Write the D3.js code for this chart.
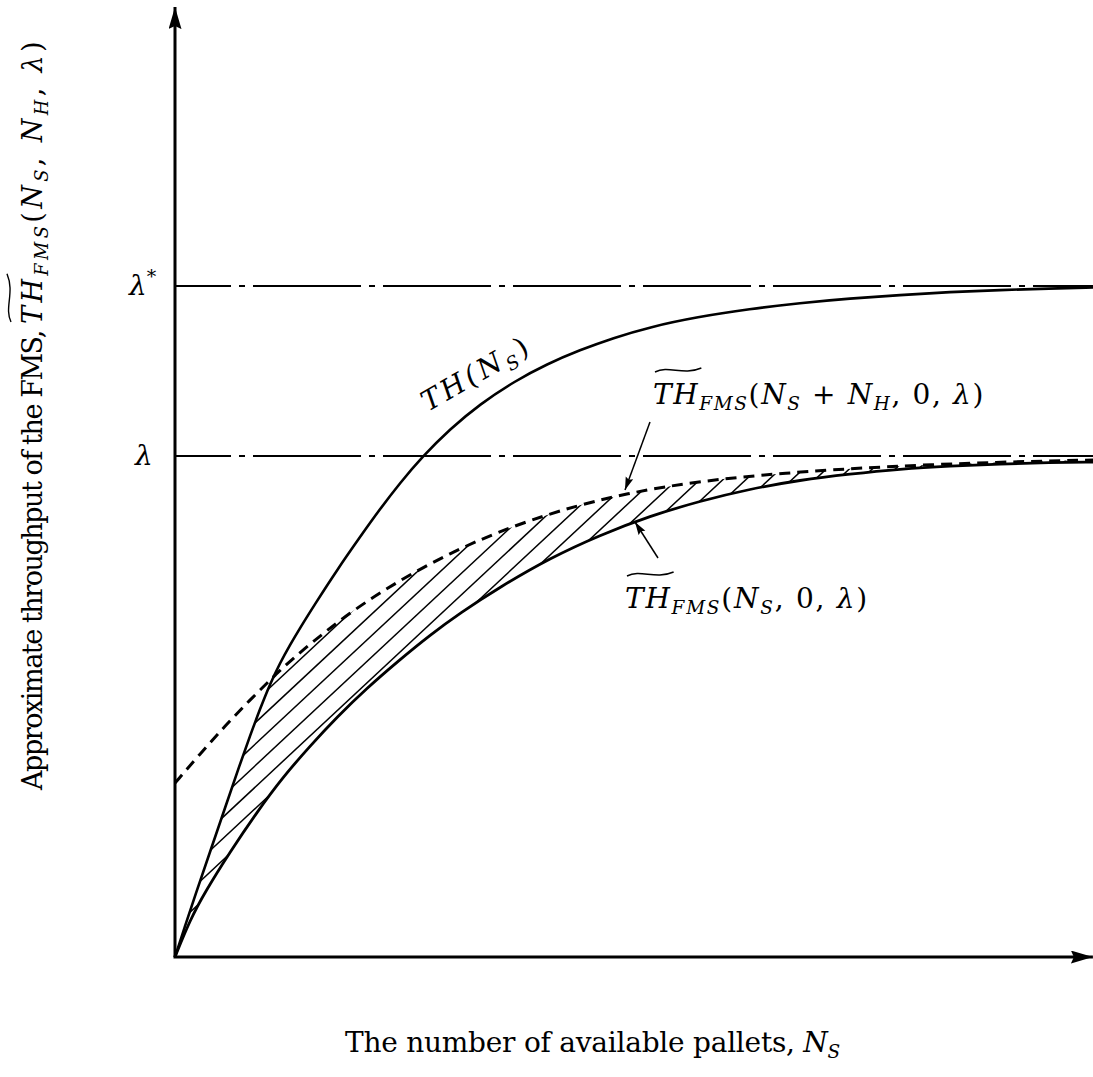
<!DOCTYPE html>
<html>
<head>
<meta charset="utf-8">
<script src="https://cdn.jsdelivr.net/npm/d3@7"></script>
<style>
  body { margin: 0; background: #fff; }
  text { font-family: "DejaVu Serif", "Liberation Serif", serif; fill: #000; }
</style>
</head>
<body>
<script>
// plot units: x 0..91.8 across the axis, y 0..95 up the axis
var xMax = 91.8, yMax = 95;
var lambdaStar = 67.1, lambdaLevel = 50.1;

// TH(Ns)
var thX = [0, 1, 2, 3.5, 5, 6.5, 7.5, 8.5, 9.5, 10.5, 11.5, 12.5, 14, 16.2, 18.5, 20.5, 22.5, 24.7, 27.5, 30.5, 34, 37.2, 40.5, 43.8, 47.5, 52.2, 57.5, 62.5, 67.5, 72.5, 77.5, 82.5, 87.5, 91.8];
var thY = [0, 3.1, 6.1, 10.5, 14.9, 19.3, 22.1, 24.8, 27.3, 29.4, 31.2, 32.9, 35.3, 38.7, 42.0, 44.8, 47.4, 50.0, 52.8, 55.3, 57.6, 59.3, 60.7, 61.9, 63.0, 64.0, 64.8, 65.4, 65.85, 66.2, 66.5, 66.7, 66.85, 66.95];

// TH_FMS(Ns, 0, lambda)
var lowX = [0, 1.5, 3.0, 5.5, 8.2, 10.8, 13.5, 16.2, 19.2, 22.2, 25.5, 28.5, 32.5, 37.5, 42.5, 47.5, 52.5, 57.5, 62.5, 67.5, 72.5, 77.5, 82.5, 87.5, 91.8];
var lowY = [0, 3.7, 6.5, 10.5, 14.5, 18.0, 21.1, 24.0, 26.9, 29.5, 32.2, 34.4, 37.0, 39.9, 42.2, 44.1, 45.6, 46.8, 47.7, 48.3, 48.8, 49.1, 49.3, 49.45, 49.5];

// TH_FMS(Ns + NH, 0, lambda)
var dashX = [0, 2.5, 5, 7.5, 10, 12.5, 17.5, 22.5, 27.5, 32.5, 38.5, 45.2, 52.5, 60.8, 70.8, 82.5, 91.8];
var dashY = [17.4, 20.3, 23.1, 25.7, 28.2, 30.5, 34.5, 37.7, 40.4, 42.6, 44.7, 46.4, 47.6, 48.4, 49.05, 49.5, 49.7];

var width = 1093, height = 1077;
var svg = d3.select("body").append("svg")
    .attr("width", width)
    .attr("height", height);

var x = d3.scaleLinear().domain([0, xMax]).range([175, 1093]);
var y = d3.scaleLinear().domain([0, yMax]).range([957, 7]);

function pts(xs, ys) {
    return xs.map(function(d, i) { return [d, ys[i]]; });
}
var thData = pts(thX, thY), lowData = pts(lowX, lowY), dashData = pts(dashX, dashY);

var line = d3.line()
    .x(function(d) { return x(d[0]); })
    .y(function(d) { return y(d[1]); })
    .curve(d3.curveBasis);

var defs = svg.append("defs");

// arrow heads
defs.append("marker")
    .attr("id", "axisHead")
    .attr("markerUnits", "userSpaceOnUse")
    .attr("markerWidth", 24).attr("markerHeight", 14)
    .attr("refX", 22).attr("refY", 6.5)
    .attr("orient", "auto")
  .append("path")
    .attr("d", "M0,0 L22,6.5 L0,13 L3,6.5 Z");

defs.append("marker")
    .attr("id", "smallHead")
    .attr("markerUnits", "userSpaceOnUse")
    .attr("markerWidth", 14).attr("markerHeight", 9)
    .attr("refX", 13).attr("refY", 4)
    .attr("orient", "auto")
  .append("path")
    .attr("d", "M0,0 L13,4 L0,8 L2,4 Z");

// hatched region: between the lower curve and min(dashed, TH)
defs.append("clipPath").attr("id", "clipBand")
  .append("path")
    .attr("d", line(dashData) + line(lowData.slice().reverse()).replace(/^M/, "L") + "Z");

defs.append("clipPath").attr("id", "clipUnderTH")
  .append("path")
    .attr("d", d3.area()
        .x(function(d) { return x(d[0]); })
        .y0(y(0))
        .y1(function(d) { return y(d[1]); })
        .curve(d3.curveBasis)(thData));

var hatchAngle = 43 * Math.PI / 180;
var run = (y(0) - y(yMax)) / Math.tan(hatchAngle);
svg.append("g").attr("clip-path", "url(#clipBand)")
  .append("g").attr("clip-path", "url(#clipUnderTH)")
  .selectAll("line")
  .data(d3.range(-1100, 1100, 23))
  .enter().append("line")
    .attr("x1", function(d) { return d; })
    .attr("y1", y(0))
    .attr("x2", function(d) { return d + run; })
    .attr("y2", y(yMax))
    .style("stroke", "#000")
    .style("stroke-width", 1.5);

// dash-dot reference levels
[lambdaStar, lambdaLevel].forEach(function(v) {
    svg.append("line")
        .attr("x1", x(0)).attr("x2", x(xMax))
        .attr("y1", y(v)).attr("y2", y(v))
        .style("stroke", "#000")
        .style("stroke-width", 2)
        .style("stroke-dasharray", "108,8,6,8")
        .style("stroke-dashoffset", 52);
});

// curves
svg.append("path")
    .attr("d", line(thData))
    .style("fill", "none").style("stroke", "#000").style("stroke-width", 2.6);

svg.append("path")
    .attr("d", line(lowData))
    .style("fill", "none").style("stroke", "#000").style("stroke-width", 2.8);

svg.append("path")
    .attr("d", line(dashData))
    .style("fill", "none").style("stroke", "#000").style("stroke-width", 3)
    .style("stroke-dasharray", "11,7");

// axes with arrow heads
svg.append("line")
    .attr("x1", x(0)).attr("y1", y(0))
    .attr("x2", x(0)).attr("y2", y(yMax) + 0.1)
    .style("stroke", "#000").style("stroke-width", 3)
    .attr("marker-end", "url(#axisHead)");

svg.append("line")
    .attr("x1", x(0) - 1.5).attr("y1", y(0))
    .attr("x2", x(xMax) - 0.1).attr("y2", y(0))
    .style("stroke", "#000").style("stroke-width", 3)
    .attr("marker-end", "url(#axisHead)");

// text helper: parts are [string, kind] with kind r (roman), i (italic), s (italic subscript)
var fs = 28;
function richText(g, px, py, parts, size) {
    size = size || fs;
    var t = g.append("text").attr("x", px).attr("y", py).style("font-size", size + "px");
    var shift = 0;
    parts.forEach(function(p) {
        var s = t.append("tspan").text(p[0]);
        var kind = p[1];
        if (kind !== "r") s.style("font-style", "italic");
        var drop = kind === "s" ? size * 0.22 : 0;
        if (drop !== shift) { s.attr("dy", drop - shift); shift = drop; }
        if (kind === "s") s.style("font-size", (size * 0.66) + "px");
    });
    return t;
}
// spread the glyphs of tspans [from, to) so they cover the width seen in the figure
function fitWidth(t, target, from, to) {
    var spans = t.selectAll("tspan").nodes();
    from = from || 0;
    to = to === undefined ? spans.length : to;
    var part = spans.slice(from, to);
    var len = 0, n = 0;
    part.forEach(function(s) { len += s.getComputedTextLength(); n += s.textContent.length; });
    var extra = (target - len) / n;
    part.forEach(function(s) { d3.select(s).style("letter-spacing", extra + "px"); });
}
function tilde(g, px, py, w) {
    var p = d3.path();
    p.moveTo(px, py + 2);
    p.bezierCurveTo(px + w * 0.3, py - 5, px + w * 0.6, py + 6, px + w, py - 2);
    g.append("path").attr("d", p.toString())
        .style("fill", "none").style("stroke", "#000").style("stroke-width", 1.4);
}
function tspanWidth(t, i) {
    return t.selectAll("tspan").nodes()[i].getComputedTextLength();
}

// level labels
svg.append("text")
    .attr("x", x(0) - 46).attr("y", y(lambdaStar) + 9)
    .style("font-size", fs + "px").style("font-style", "italic")
    .text("λ")
  .append("tspan")
    .attr("dy", -12).style("font-size", "19px").style("font-style", "normal")
    .text("*");
svg.append("text")
    .attr("x", x(0) - 40).attr("y", y(lambdaLevel) + 9)
    .style("font-size", fs + "px").style("font-style", "italic")
    .text("λ");

// TH(Ns) along its curve
var thLab = svg.append("g")
    .attr("transform", "translate(" + x(25.3) + "," + y(54.5) + ") rotate(-30)");
var thText = richText(thLab, 0, 0, [["TH(N", "i"], ["S", "s"], [")", "r"]]);
fitWidth(thText, 122);

// label for the dashed curve
var l1x = x(47.8), l1y = y(55.3);
var l1 = richText(svg, l1x, l1y, [["TH", "i"], ["FMS", "s"], ["(", "r"], ["N", "i"], ["S", "s"], [" + ", "r"], ["N", "i"], ["H", "s"], [", 0, ", "r"], ["λ", "i"], [")", "r"]]);
fitWidth(l1, 332);
tilde(svg, l1x + 2, l1y - 34, tspanWidth(l1, 0));
svg.append("line")
    .attr("x1", x(47.5)).attr("y1", y(53.5))
    .attr("x2", x(45.0)).attr("y2", y(46.7))
    .style("stroke", "#000").style("stroke-width", 1.5)
    .attr("marker-end", "url(#smallHead)");

// label for the lower curve
var l2x = x(45.0), l2y = y(34.9);
var l2 = richText(svg, l2x, l2y, [["TH", "i"], ["FMS", "s"], ["(", "r"], ["N", "i"], ["S", "s"], [", 0, ", "r"], ["λ", "i"], [")", "r"]]);
fitWidth(l2, 244);
tilde(svg, l2x + 2, l2y - 34, tspanWidth(l2, 0));
svg.append("line")
    .attr("x1", x(48.3)).attr("y1", y(39.9))
    .attr("x2", x(46.0)).attr("y2", y(43.5))
    .style("stroke", "#000").style("stroke-width", 1.5)
    .attr("marker-end", "url(#smallHead)");

// axis titles
var xt = richText(svg, 345, 1052, [["The number of available pallets, ", "r"], ["N", "i"], ["S", "s"]]);
fitWidth(xt, 495);

var yg = svg.append("g").attr("transform", "translate(42,790) rotate(-90)");
var yt = richText(yg, 0, 0, [["Approximate throughput of the FMS, ", "r"], ["TH", "i"], ["FMS", "s"], ["(", "r"], ["N", "i"], ["S", "s"], [", ", "r"], ["N", "i"], ["H", "s"], [", ", "r"], ["λ", "i"], [")", "r"]], 27);
fitWidth(yt, 466, 0, 1);
fitWidth(yt, 286, 1);
tilde(yg, tspanWidth(yt, 0) + 2, -33, tspanWidth(yt, 1));
</script>
</body>
</html>
